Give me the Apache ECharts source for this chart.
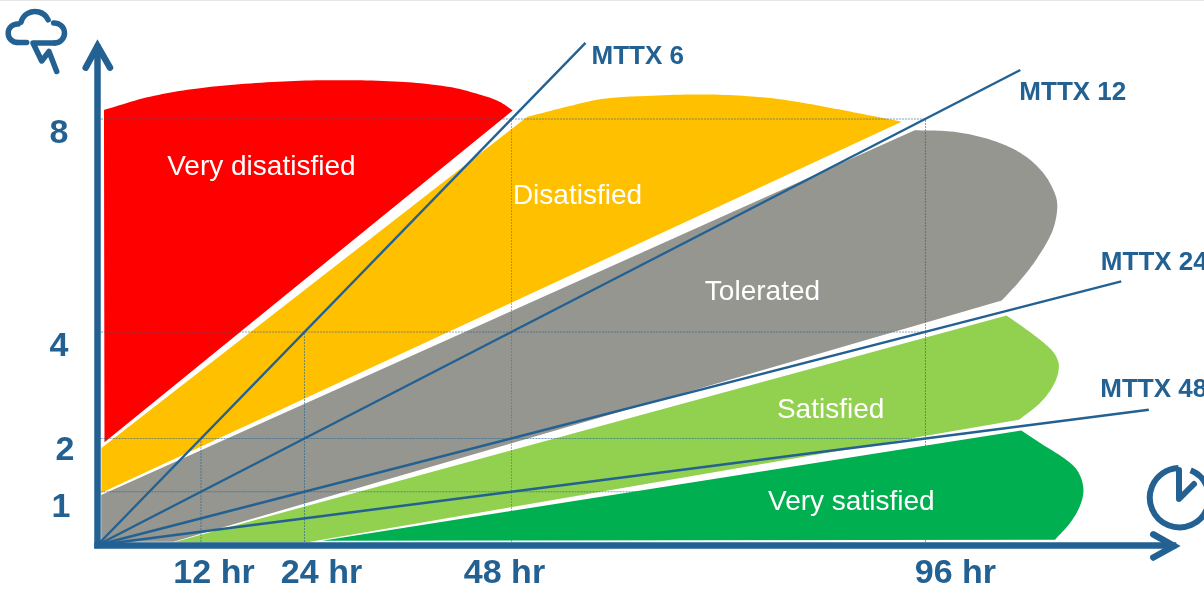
<!DOCTYPE html>
<html><head><meta charset="utf-8">
<style>html,body{margin:0;padding:0;background:#fff}#c{width:1204px;height:591px}</style>
<script src="https://cdn.jsdelivr.net/npm/echarts@6/dist/echarts.min.js"></script>
</head><body><div id="c"></div>
<script>
const hourTicks = [12, 24, 48, 96];
const severityTicks = [1, 2, 4, 8];
const regionNames = ['Very disatisfied', 'Disatisfied', 'Tolerated', 'Satisfied', 'Very satisfied'];
const regionColors = ['#FF0000', '#FFC000', '#95968F', '#92D050', '#00B050'];

const veryDissatisfiedOutline = [[.81,1.93],[.75,8.17],[6.09,8.42],[11.88,8.58],[19.65,8.69],[27.3,8.73],[35.07,8.70],[40.87,8.60],[44.93,8.43],[46.67,8.32],[48.14,8.16]];
const dissatisfiedOutline = [[.46,.98],[.46,1.82],[49.8,8.04],[54.4,8.23],[58.26,8.37],[62.9,8.43],[71.0,8.46],[77.62,8.40],[81.92,8.30],[87.25,8.14],[93.24,7.95]];
const toleratedOutline = [[.43,.06],[.43,.94],[94.75,7.79],[99.3,7.76],[103.56,7.61],[107.04,7.36],[109.54,7.01],[110.98,6.61],[111.28,6.33],[110.70,5.89],[108.96,5.39],[107.04,4.98],[104.84,4.59],[8.81,.06]];
const satisfiedOutline = [[8.81,.05],[105.41,4.31],[108.19,3.99],[110.12,3.74],[111.09,3.56],[111.47,3.34],[110.9,3.02],[109.36,2.68],[106.84,2.35],[24.35,.05]];
const verySatisfiedOutline = [[26.05,.08],[107.11,2.15],[109.74,1.87],[112.06,1.63],[113.6,1.40],[114.3,1.08],[114.0,.77],[112.84,.43],[111.02,.10]];
const regionLabelAnchors = [[19.0,7.09],[55.65,6.55],[77.1,4.74],[85,2.53],[87.4,.80]];

const mttxNames = ['MTTX 6', 'MTTX 12', 'MTTX 24', 'MTTX 48'];
const mttxEnds = [[56.58,9.43],[107,8.92],[118.7,4.95],[121.9,2.54]];

const gridHorizontal = [[-1,96,8],[-1,96,4],[0,96,2],[0,96,1]];
const gridVertical = [[12,2],[24,4],[48,8],[96,8]];

// styling, separate from the data
const BLUE = '#236192';
const FONT = '"Liberation Sans", Arial, sans-serif';
const curveRanges = [[1,10],[2,10],[2,12],[1,8],[1,8]];
const xLabelPad = {12:[0,0,0,26],24:[0,0,0,34],48:[0,14,0,0],96:[0,0,0,60]};
const yLabelPad = {8:[30,7,0,0],4:[30,7,0,0],2:[24,1,0,0],1:[32,5,0,0]};
const mttxLabelOffset = [[6,14],[-1,22.6],[-20.4,-18.3],[-48.6,-20]];

// Draw the outline's curved stretch as a smooth Hermite curve between its read points.
function smoothOutline(pts, from, to) {
  const unit = (a, b) => { const dx = b[0]-a[0], dy = b[1]-a[1], l = Math.hypot(dx, dy) || 1; return [dx/l, dy/l]; };
  const dir = i => unit(pts[Math.max(i-1, from)], pts[Math.min(i+1, to)]);
  const out = [];
  for (let i = 0; i < pts.length; i++) {
    out.push(pts[i]);
    if (i >= from && i < to) {
      const p1 = pts[i], p2 = pts[i+1], d1 = dir(i), d2 = dir(i+1);
      const L = Math.hypot(p2[0]-p1[0], p2[1]-p1[1]);
      for (let s = 1; s < 12; s++) {
        const t = s/12, t2 = t*t, t3 = t2*t;
        const h00 = 2*t3-3*t2+1, h10 = t3-2*t2+t, h01 = -2*t3+3*t2, h11 = t3-t2;
        out.push([0,1].map(k => h00*p1[k] + h10*L*d1[k] + h01*p2[k] + h11*L*d2[k]));
      }
    }
  }
  return out;
}

function regionSeries(idx, outline, z) {
  return {
    type: 'custom', name: regionNames[idx], coordinateSystem: 'cartesian2d', z, silent: true, clip: false,
    data: outline,
    encode: {x: 0, y: 1},
    renderItem(params, api) {
      if (params.dataIndex !== 0) return null;
      const px = outline.map(p => api.coord(p));
      const points = smoothOutline(px, curveRanges[idx][0], curveRanges[idx][1]);
      const a = api.coord(regionLabelAnchors[idx]);
      return {type: 'group', children: [
        {type: 'polygon', shape: {points}, style: {fill: regionColors[idx], stroke: null}},
        {type: 'text', x: a[0], y: a[1], style: {text: regionNames[idx], fill: '#fff', font: '28px ' + FONT, align: 'center', verticalAlign: 'middle'}}
      ]};
    }
  };
}

function gridSeries(pts, color) {
  return {type: 'line', data: pts, z: 3, clip: false, silent: true, showSymbol: false, symbol: 'none',
    lineStyle: {width: 1, type: [2,1], color}};
}

const series = [
  regionSeries(0, veryDissatisfiedOutline, 2),
  regionSeries(1, dissatisfiedOutline, 2),
  regionSeries(2, toleratedOutline, 2),
  regionSeries(3, satisfiedOutline, 2)
];
gridHorizontal.forEach(g => series.push(gridSeries([[g[0],g[2]],[g[1],g[2]]], 'rgba(35,97,146,.6)')));
gridVertical.forEach(g => series.push(gridSeries([[g[0],0],[g[0],g[1]]], g[0] === 48 ? 'rgba(170,70,120,.55)' : 'rgba(35,97,146,.6)')));
series.push(regionSeries(4, verySatisfiedOutline, 4));
mttxNames.forEach((name, i) => series.push({
  type: 'line', name, z: 5, clip: false, silent: true, showSymbol: false, symbol: 'none',
  data: [[0,0], mttxEnds[i]],
  lineStyle: {width: 2.4, color: BLUE},
  endLabel: {show: true, formatter: name, distance: 0, offset: mttxLabelOffset[i], align: 'left', verticalAlign: 'middle',
    color: BLUE, fontFamily: FONT, fontWeight: 'bold', fontSize: 26}
}));

const xRich = {}, yRich = {};
hourTicks.forEach(v => xRich['h'+v] = {padding: xLabelPad[v], color: BLUE, fontFamily: FONT, fontWeight: 'bold', fontSize: 34});
severityTicks.forEach(v => yRich['s'+v] = {padding: yLabelPad[v], color: BLUE, fontFamily: FONT, fontWeight: 'bold', fontSize: 34});

const icon = {stroke: BLUE, fill: null, lineWidth: 5.5, lineCap: 'round', lineJoin: 'round'};
const arrow = {stroke: BLUE, fill: null, lineWidth: 6.5, lineCap: 'round', lineJoin: 'miter'};
const rad = d => d*Math.PI/180;

const chart = echarts.init(document.getElementById('c'), null, {renderer: 'canvas'});
chart.setOption({
  animation: false,
  backgroundColor: '#fff',
  grid: {left: 97.5, right: 31, top: 48, bottom: 45.5},
  xAxis: {type: 'value', min: 0, max: 124.7, z: 6, splitLine: {show: false}, axisTick: {show: false},
    axisLine: {show: true, onZero: false, lineStyle: {color: BLUE, width: 6.5, cap: 'square'}},
    axisLabel: {customValues: hourTicks, margin: 12, formatter: v => `{h${v}|${v} hr}`, rich: xRich}},
  yAxis: {type: 'value', min: 0, max: 9.334, z: 6, splitLine: {show: false}, axisTick: {show: false},
    axisLine: {show: true, onZero: false, lineStyle: {color: BLUE, width: 6.5, cap: 'square'}},
    axisLabel: {customValues: severityTicks, margin: 22, formatter: v => `{s${v}|${v}}`, rich: yRich}},
  series,
  graphic: [
    {type: 'rect', z: 100, shape: {x: 0, y: 0, width: 1204, height: 1}, style: {fill: '#e6e6e6'}},
    {type: 'polyline', z: 100, shape: {points: [[85.7,67.7],[97.5,46],[110,67.7]]}, style: arrow},
    {type: 'polyline', z: 100, shape: {points: [[1153.3,534.3],[1174,546],[1153.3,557.5]]}, style: arrow},
    // cloud
    {type: 'arc', z: 100, shape: {cx: 17.5, cy: 33.2, r: 9.3, startAngle: rad(90), endAngle: rad(275), clockwise: true}, style: icon},
    {type: 'arc', z: 100, shape: {cx: 35, cy: 26, r: 14.5, startAngle: rad(195), endAngle: rad(335), clockwise: true}, style: icon},
    {type: 'arc', z: 100, shape: {cx: 54.5, cy: 33, r: 10, startAngle: rad(-95), endAngle: rad(90), clockwise: true}, style: icon},
    {type: 'polyline', z: 100, shape: {points: [[17.5,42.5],[26.7,42.5]]}, style: icon},
    {type: 'polyline', z: 100, shape: {points: [[54.5,43],[33,43],[41.7,61],[49,51.5],[56.7,71.5]]}, style: icon},
    // clock
    {type: 'arc', z: 100, shape: {cx: 1179.5, cy: 497.7, r: 29.7, startAngle: rad(-68), endAngle: rad(268), clockwise: true}, style: {stroke: BLUE, fill: null, lineWidth: 6, lineCap: 'butt'}},
    {type: 'polyline', z: 100, shape: {points: [[1179,470],[1179,499],[1194,484]]}, style: {stroke: BLUE, fill: null, lineWidth: 6, lineCap: 'round', lineJoin: 'round'}}
  ]
});
</script></body></html>
